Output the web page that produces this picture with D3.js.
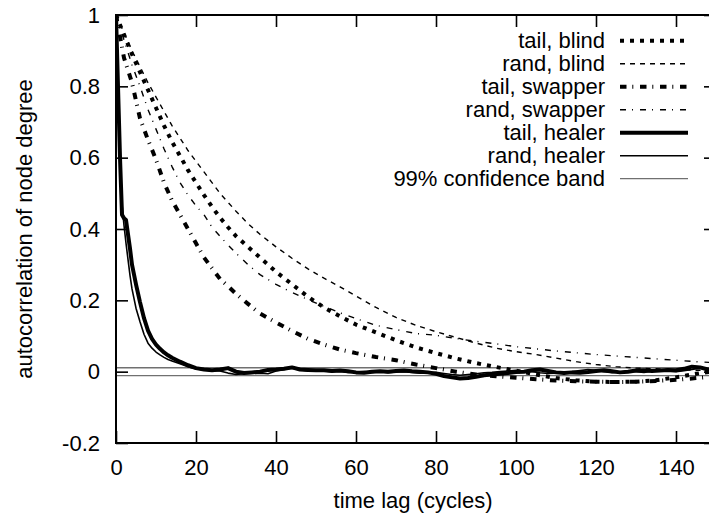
<!DOCTYPE html>
<html><head><meta charset="utf-8">
<script src="https://cdn.jsdelivr.net/npm/d3@7"></script>
<style>
html,body{margin:0;padding:0;background:#fff;}
svg{display:block;font-family:"Liberation Sans",Arial,Helvetica,sans-serif;}
</style></head>
<body><svg id="c" width="709" height="518"></svg>
<script>
// ---------- data ----------
const smoothLags = [0,2,4,6,8,10,12,14,16,18,20,22,24,26,28,30,33,36,40,44,48,52,56,60,65,70,75,80,85,90,95,100,105,110,115,120,125,130,135,140,145,150];
const tailBlind = [1,0.945,0.89,0.84,0.79,0.74,0.69,0.645,0.605,0.565,0.53,0.495,0.462,0.432,0.405,0.38,0.35,0.32,0.28,0.245,0.21,0.18,0.155,0.132,0.11,0.088,0.068,0.052,0.037,0.024,0.013,0.003,-0.008,-0.018,-0.024,-0.028,-0.029,-0.028,-0.024,-0.016,-0.006,0.002];
const randBlind = [1,0.95,0.9,0.855,0.81,0.77,0.73,0.69,0.655,0.62,0.59,0.56,0.53,0.5,0.475,0.45,0.415,0.385,0.35,0.318,0.288,0.262,0.238,0.212,0.18,0.152,0.13,0.112,0.096,0.08,0.066,0.056,0.048,0.038,0.028,0.02,0.014,0.01,0.008,0.006,0.004,0.003];
const tailSwapper = [1,0.88,0.81,0.71,0.65,0.595,0.53,0.48,0.44,0.4,0.36,0.32,0.29,0.26,0.24,0.218,0.19,0.163,0.138,0.114,0.092,0.076,0.062,0.052,0.041,0.032,0.02,0.01,0.0,-0.008,-0.013,-0.017,-0.021,-0.025,-0.027,-0.028,-0.029,-0.028,-0.026,-0.023,-0.018,-0.013];
const randSwapper = [1,0.93,0.86,0.8,0.735,0.68,0.625,0.575,0.53,0.495,0.465,0.44,0.405,0.38,0.355,0.332,0.3,0.272,0.245,0.222,0.202,0.183,0.165,0.149,0.13,0.118,0.107,0.102,0.093,0.085,0.078,0.07,0.064,0.058,0.053,0.048,0.044,0.04,0.036,0.032,0.028,0.025];

const healerLags = [0,0.5,1,1.5,2,2.5,3,3.5,4,5,6,7,8,9,10,11,12,13,14,16,18,20,22,24,26,28,30,32,34,36,38,40,42,44,46,48,50,52,54,56,58,60,62,64,66,68,70,72,74,76,78,80,82,84,86,88,90,92,94,96,98,100,102,104,106,108,110,112,114,116,118,120,122,124,126,128,130,132,134,136,138,140,142,144,146,148,150];
const tailHealer = [1,0.8,0.6,0.44,0.43,0.425,0.385,0.345,0.3,0.245,0.195,0.15,0.115,0.092,0.076,0.064,0.054,0.046,0.039,0.028,0.018,0.01,0.006,0.004,0.006,0.01,0.0,-0.004,-0.002,0.0,0.005,0.006,0.008,0.012,0.006,0.005,0.004,0.004,0.002,0.003,0.001,-0.002,-0.003,0.0,0.001,0.0,0.002,0.003,0.001,0.0,-0.002,-0.006,-0.012,-0.016,-0.019,-0.018,-0.014,-0.01,-0.008,-0.006,-0.004,-0.001,0.0,0.004,0.006,0.002,-0.002,-0.004,-0.002,-0.003,-0.001,0.002,0.004,0.001,-0.002,0.0,0.003,0.004,0.002,0.003,0.005,0.004,0.008,0.014,0.012,0.006,0.004];
const randHealer = [1,0.8,0.6,0.47,0.41,0.36,0.315,0.27,0.232,0.178,0.14,0.105,0.08,0.066,0.055,0.047,0.04,0.034,0.03,0.022,0.014,0.008,0.005,0.004,0.002,-0.004,-0.008,-0.006,-0.005,-0.004,-0.006,0.002,0.006,0.01,0.005,0.003,0.001,0.002,0.0,0.001,-0.002,-0.001,0.0,-0.002,0.0,-0.003,-0.001,0.0,-0.002,-0.004,-0.003,-0.002,-0.005,-0.008,-0.01,-0.008,-0.006,-0.003,-0.002,0.0,0.002,0.004,0.002,0.0,-0.003,-0.005,-0.004,-0.002,0.0,0.003,0.006,0.004,0.0,-0.003,-0.001,0.002,0.0,-0.002,0.001,0.004,0.002,0.0,0.003,0.006,0.01,0.004,0.0];

const confidenceBand = [-0.011, 0.011];

const seriesNames = ["tail, blind","rand, blind","tail, swapper","rand, swapper","tail, healer","rand, healer"];
const bandName = "99% confidence band";
const xTicks = [0,20,40,60,80,100,120,140];
const yTicks = [-0.2,0,0.2,0.4,0.6,0.8,1];
const yTickLabels = ["-0.2","0","0.2","0.4","0.6","0.8","1"];
const xTitle = "time lag (cycles)";
const yTitle = "autocorrelation of node degree";

// ---------- styles ----------
const styles = [
  {w:4,   dash:"4,6"},
  {w:1.4, dash:"5,5"},
  {w:4,   dash:"6.5,5.8,1,6.7"},
  {w:1.4, dash:"6,6,1,7"},
  {w:4,   dash:null},
  {w:1.6, dash:null}
];
const seriesData = [
  [smoothLags, tailBlind],
  [smoothLags, randBlind],
  [smoothLags, tailSwapper],
  [smoothLags, randSwapper],
  [healerLags, tailHealer],
  [healerLags, randHealer]
];

// ---------- layout ----------
const M = {left:116, right:716, top:15, bottom:443};
const FS = 22;
const svg = d3.select("#c");
const x = d3.scaleLinear().domain([0,150]).range([M.left, M.right]);
const y = d3.scaleLinear().domain([-0.2,1]).range([M.bottom, M.top]);

svg.append("defs").append("clipPath").attr("id","clip")
  .append("rect").attr("x",M.left).attr("y",M.top)
  .attr("width",M.right-M.left).attr("height",M.bottom-M.top);

// confidence band
const gBand = svg.append("g").attr("clip-path","url(#clip)");
confidenceBand.forEach(v=>{
  gBand.append("line").attr("x1",x(0)).attr("x2",x(150))
    .attr("y1",y(v)).attr("y2",y(v))
    .attr("stroke","#707070").attr("stroke-width",1.3);
});

// curves
const line = d3.line().x(d=>x(d[0])).y(d=>y(d[1]));
const gCurves = svg.append("g").attr("clip-path","url(#clip)");
seriesData.forEach((s,i)=>{
  const pts = s[0].map((l,k)=>[l, s[1][k]]);
  gCurves.append("path").datum(pts).attr("d",line)
    .attr("fill","none").attr("stroke","#000")
    .attr("stroke-width",styles[i].w)
    .attr("stroke-dasharray",styles[i].dash)
    .attr("stroke-linejoin","round")
    .attr("stroke-linecap","butt");
});

// axes
function styleAxis(g){
  g.select(".domain").remove();
  g.selectAll(".tick line").attr("stroke","#000").attr("stroke-width",1.6);
  g.selectAll("text").attr("font-size",FS).attr("fill","#000")
    .attr("font-family","'Liberation Sans',Arial,sans-serif");
}
svg.append("g").attr("transform",`translate(0,${M.bottom})`)
  .call(d3.axisBottom(x).tickValues(xTicks).tickSizeInner(-12).tickSizeOuter(0).tickPadding(16).tickFormat(d3.format("d")))
  .call(styleAxis);
svg.append("g").attr("transform",`translate(0,${M.top})`)
  .call(d3.axisTop(x).tickValues(xTicks).tickSizeInner(-12).tickSizeOuter(0).tickFormat(""))
  .call(styleAxis);
svg.append("g").attr("transform",`translate(${M.left},0)`)
  .call(d3.axisLeft(y).tickValues(yTicks).tickSizeInner(-12).tickSizeOuter(0).tickPadding(16)
    .tickFormat((d,i)=>yTickLabels[i]))
  .call(styleAxis);
svg.append("g").attr("transform",`translate(${M.right},0)`)
  .call(d3.axisRight(y).tickValues(yTicks).tickSizeInner(-12).tickSizeOuter(0).tickFormat(""))
  .call(styleAxis);

// border
svg.append("rect").attr("x",M.left).attr("y",M.top)
  .attr("width",M.right-M.left).attr("height",M.bottom-M.top)
  .attr("fill","none").attr("stroke","#000").attr("stroke-width",2);

// titles
svg.append("text").attr("x",(M.left+M.right-6)/2).attr("y",508)
  .attr("text-anchor","middle").attr("font-size",FS).text(xTitle);
svg.append("text").attr("transform",`translate(32,${(M.top+M.bottom)/2}) rotate(-90)`)
  .attr("text-anchor","middle").attr("font-size",FS).text(yTitle);

// legend
const legX1 = 620, legX2 = 688, legTextX = 605, legY0 = 40.7, legDy = 23;
const legItems = seriesNames.map((n,i)=>({name:n, w:styles[i].w, dash:styles[i].dash, color:"#000"}));
legItems.push({name:bandName, w:1.3, dash:null, color:"#707070"});
const gLeg = svg.append("g");
legItems.forEach((it,i)=>{
  const yy = legY0 + i*legDy;
  gLeg.append("text").attr("x",legTextX).attr("y",yy+7.6)
    .attr("text-anchor","end").attr("font-size",FS).text(it.name);
  gLeg.append("line").attr("x1",legX1).attr("x2",legX2).attr("y1",yy).attr("y2",yy)
    .attr("stroke",it.color).attr("stroke-width",it.w)
    .attr("stroke-dasharray",it.dash).attr("stroke-linecap","butt");
});
</script>
</body></html>
